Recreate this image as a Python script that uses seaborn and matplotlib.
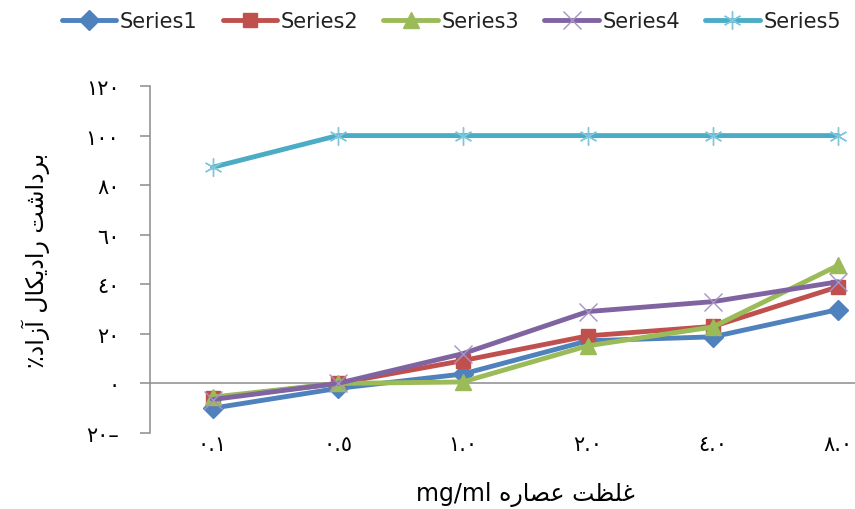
import matplotlib
matplotlib.use("Agg")
import matplotlib.pyplot as plt
import seaborn as sns
import pandas as pd

# Extract concentrations (mg/ml), labelled with Arabic-Indic digits
concentrations = ["٠.١", "٠.٥", "١.٠", "٢.٠", "٤.٠", "٨.٠"]

series_names = ["Series1", "Series2", "Series3", "Series4", "Series5"]
series1 = [-10, -2, 3.8, 17.2, 18.8, 29.8]
series2 = [-6, 0, 9.2, 19.2, 23, 39]
series3 = [-5.5, 0, 0.6, 15.2, 22.8, 47.6]
series4 = [-6.5, 0, 12, 29, 33, 41]
series5 = [87.2, 100, 100, 100, 100, 100]

y_ticks = [-20, 0, 20, 40, 60, 80, 100, 120]
y_tick_labels = ["٢٠–", "٠", "٢٠", "٤٠", "٦٠", "٨٠", "١٠٠", "١٢٠"]

# Persian axis titles, written as shaped glyphs in display order
y_title = "٪ﺩﺍﺯﺁ ﻝﺎﻜﻳﺩﺍﺭ ﺖﺷﺍﺩﺮﺑ"
x_title = "mg/ml ﻩﺭﺎﺼﻋ ﺖﻈﻠﻏ"

rows = []
for name, vals in zip(series_names, [series1, series2, series3, series4, series5]):
    for c, v in zip(concentrations, vals):
        rows.append({"series": name, "conc": c, "value": v})
df = pd.DataFrame(rows)

colors = ["#4F81BD", "#C0504D", "#9BBB59", "#8064A2", "#4BACC6"]
edge_colors = ["#4F81BD", "#C0504D", "#9BBB59", "#A593C4", "#7FC6DA"]
markers = ["D", "s", "^", "x", (6, 2, 0)]
msizes = [10, 10, 11, 13, 13]

sns.set_theme(style="white")
plt.rcParams["font.family"] = ["DejaVu Sans"]

fig = plt.figure(figsize=(8.55, 5.1), dpi=100)
ax = fig.add_axes([0.1754, 0.149, 0.878, 0.6804])

for i, name in enumerate(series_names):
    sub = df[df["series"] == name]
    sns.lineplot(data=sub, x="conc", y="value", ax=ax, color=colors[i],
                 linewidth=3.5, marker=markers[i], markersize=msizes[i],
                 markeredgecolor=edge_colors[i], markeredgewidth=1.0,
                 markerfacecolor=colors[i], label=name, clip_on=False,
                 sort=False, legend=True)

ax.set_xlim(-0.5, 5.5)
ax.set_ylim(-20, 120)
ax.set_yticks(y_ticks)
ax.set_yticklabels(y_tick_labels, fontsize=15)
ax.axhline(0, color="#8C8C8C", linewidth=1.1, zorder=0.5)

for side in ["top", "right", "bottom"]:
    ax.spines[side].set_visible(False)
ax.spines["left"].set_color("#8C8C8C")
ax.spines["left"].set_linewidth(1.1)
ax.tick_params(axis="y", direction="out", length=7, width=1.1,
               color="#8C8C8C", pad=15, left=True, labelcolor="#000000")
ax.tick_params(axis="x", length=0, pad=1, labelsize=15, labelcolor="#000000")

ax.set_xlabel(x_title, fontsize=17, labelpad=19, color="#000000")
ax.set_ylabel(y_title, fontsize=17, labelpad=26, color="#000000")

handles, labels = ax.get_legend_handles_labels()
ax.legend_.remove()
fig.legend(handles, labels, loc="center", bbox_to_anchor=(0.528, 0.957), ncol=5,
           frameon=False, handlelength=2.6, columnspacing=1.2,
           handletextpad=0.2, prop={"family": ["DejaVu Sans"], "size": 15},
           labelcolor="#222222")

fig.savefig("out.png", dpi=100)
